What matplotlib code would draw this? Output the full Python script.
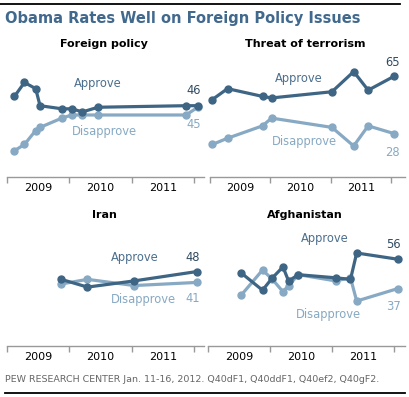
import matplotlib
matplotlib.use("Agg")
import matplotlib.pyplot as plt
from matplotlib.lines import Line2D

# ----------------------------------------------------
# Data (approximate survey dates as decimal years)
# ----------------------------------------------------
fp_dates = [2009.12, 2009.28, 2009.46, 2009.53, 2009.88, 2010.04, 2010.21, 2010.46, 2011.87, 2012.06]
fp_approve = [52, 61, 57, 46, 44, 44, 42, 45, 46, 46]
fp_disapprove = [17, 21, 30, 32, 38, 40, 40, 40, 40, 45]

tr_dates = [2009.04, 2009.29, 2009.87, 2010.02, 2011.02, 2011.38, 2011.62, 2012.05]
tr_approve = [50, 57, 52, 51, 55, 68, 56, 65]
tr_disapprove = [21, 25, 33, 38, 32, 20, 33, 28]

ir_dates = [2009.87, 2010.29, 2011.04, 2012.04]
ir_approve = [43, 38, 42, 48]
ir_disapprove = [40, 43, 39, 41]

af_dates = [2009.54, 2009.88, 2010.04, 2010.21, 2010.30, 2010.46, 2011.06, 2011.30, 2011.40, 2012.06]
af_approve = [47, 36, 44, 51, 42, 46, 44, 43, 60, 56]
af_disapprove = [33, 49, 43, 35, 39, 46, 42, 44, 29, 37]

years = [2009, 2010, 2011]
year_labels = ["2009", "2010", "2011"]

DARK = "#3e6584"
LIGHT = "#87a9c3"
W, H = 410, 397

fig = plt.figure(figsize=(W / 100, H / 100), dpi=100)


def px_text(x, y, s, **kw):
    fig.text(x / W, 1 - y / H, s, **kw)


def make_axes(left, right, bottom, top, xmax):
    ax = fig.add_axes([left / W, 1 - bottom / H, (right - left) / W, (bottom - top) / H])
    ax.set_xlim(2009, xmax)
    ax.set_ylim(0, (bottom - top) / 1.55)
    for side in ["top", "left", "right"]:
        ax.spines[side].set_visible(False)
    ax.spines["bottom"].set_color("#999999")
    ax.spines["bottom"].set_linewidth(1)
    ax.set_yticks([])
    ax.set_xticks([2009, 2010, 2011, 2012])
    ax.set_xticklabels([])
    ax.tick_params(axis="x", which="major", direction="out", length=4, color="#999999", width=1)
    ax.set_xticks([y + 0.5 for y in years], minor=True)
    ax.set_xticklabels(year_labels, minor=True, fontsize=8, color="black")
    ax.tick_params(axis="x", which="minor", length=0, pad=4)
    ax.patch.set_alpha(0)
    return ax


def draw(ax, dates, approve, disapprove):
    ax.plot(dates, disapprove, color=LIGHT, lw=2.3, marker="o", ms=5, clip_on=False)
    ax.plot(dates, approve, color=DARK, lw=2.3, marker="o", ms=5, clip_on=False)


# panels
ax1 = make_axes(7, 204, 177, 67, 2012.16)
draw(ax1, fp_dates, fp_approve, fp_disapprove)
ax2 = make_axes(210, 405, 177, 67, 2012.23)
draw(ax2, tr_dates, tr_approve, tr_disapprove)
ax3 = make_axes(7, 204, 346, 236, 2012.16)
draw(ax3, ir_dates, ir_approve, ir_disapprove)
ax4 = make_axes(208, 405, 346, 236, 2012.18)
draw(ax4, af_dates, af_approve, af_disapprove)

# titles
px_text(5, 19, "Obama Rates Well on Foreign Policy Issues", fontsize=10.5, fontweight="bold",
        color="#41698e", ha="left", va="center")
ptitle = dict(fontsize=8, fontweight="bold", color="black", ha="center", va="center")
px_text(104, 44, "Foreign policy", **ptitle)
px_text(305, 44, "Threat of terrorism", **ptitle)
px_text(104, 215, "Iran", **ptitle)
px_text(305, 215, "Afghanistan", **ptitle)

# series labels
lab = dict(fontsize=8.3, ha="center", va="center")
px_text(97.5, 83, "Approve", color="#4c6f8d", **lab)
px_text(104, 131, "Disapprove", color=LIGHT, **lab)
px_text(193.7, 91, "46", color="#2f4a60", **lab)
px_text(193.7, 124.5, "45", color=LIGHT, **lab)

px_text(298.7, 78.5, "Approve", color="#4c6f8d", **lab)
px_text(304.7, 141, "Disapprove", color=LIGHT, **lab)
px_text(392.7, 62.5, "65", color="#2f4a60", **lab)
px_text(392.7, 152, "28", color=LIGHT, **lab)

px_text(134.7, 257.5, "Approve", color="#4c6f8d", **lab)
px_text(143.7, 299, "Disapprove", color=LIGHT, **lab)
px_text(193, 257.5, "48", color="#2f4a60", **lab)
px_text(193, 299, "41", color=LIGHT, **lab)

px_text(324.7, 238.5, "Approve", color="#4c6f8d", **lab)
px_text(328.8, 314.5, "Disapprove", color=LIGHT, **lab)
px_text(393.7, 245, "56", color="#2f4a60", **lab)
px_text(393.7, 306, "37", color=LIGHT, **lab)

# footer and rules
px_text(5, 380, "PEW RESEARCH CENTER Jan. 11-16, 2012. Q40dF1, Q40ddF1, Q40ef2, Q40gF2.",
        fontsize=6.8, color="#666666", ha="left", va="center")
fig.add_artist(Line2D([0, 400 / W], [1 - 3.5 / H] * 2, color="black", lw=1.3))
fig.add_artist(Line2D([5 / W, 405 / W], [1 - 392.5 / H] * 2, color="black", lw=1.3))

fig.savefig("out.png", dpi=100)
